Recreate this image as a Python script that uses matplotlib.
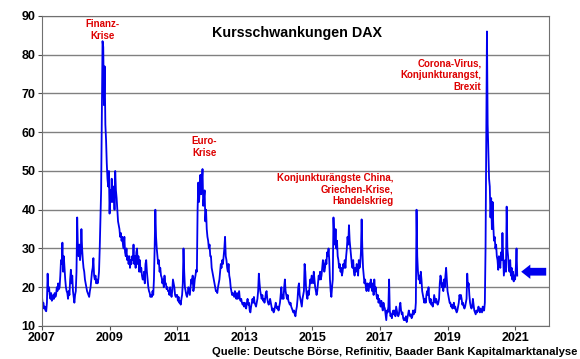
import numpy as np
import matplotlib
matplotlib.use("Agg")
import matplotlib.pyplot as plt
from matplotlib.patches import FancyArrow

plt.rcParams['font.family'] = ['Liberation Sans', 'DejaVu Sans']
plt.rcParams['font.weight'] = 'bold'

# weekly-ish values (4 per month)
vol_2007 = [17.5, 15.5, 16, 14.5, 15, 14, 13.8, 16, 23.5, 19, 20, 18,
            17, 18.5, 16.5, 17, 18, 17, 18.5, 17.5, 18, 20, 19, 21,
            19.5, 20, 23, 27, 26, 31.5, 24, 28, 25, 22, 20, 19,
            18.5, 17, 19, 18, 22, 24.5, 21, 23, 19, 17.5, 16, 18]
vol_2008 = [19, 24, 38, 30, 28, 31, 27, 29, 35, 30, 27, 25,
            24, 22, 21, 20, 19, 18.5, 18, 17.5, 19, 20, 22, 24,
            25, 27.5, 23, 22, 23, 21, 22, 21, 22, 24, 30, 38,
            45, 64, 83.5, 82, 67, 77, 62, 58, 52, 48, 46, 50]
vol_2009 = [39, 45, 42, 48, 42, 44, 46, 40, 50, 45, 43, 40,
            37, 36, 35, 33, 34, 32, 33, 31, 30, 33, 29, 28,
            30, 27, 28, 26, 28, 25, 27, 26, 28, 27, 31, 26,
            28, 25, 29, 30, 26, 28, 24, 27, 24, 25, 23, 22]
vol_2010 = [22, 24, 21, 26, 27, 24, 22, 20, 19, 18.5, 17.5, 18,
            17.5, 19, 18, 22, 30, 40, 33, 30, 28, 26, 27, 24,
            25, 23, 22.5, 21, 22, 20, 23, 21, 21, 19.5, 20, 19,
            19, 18, 20, 18.5, 17.5, 19, 22, 21, 20, 18, 17.5, 18]
vol_2011 = [18, 16.5, 17.5, 16, 16.5, 15.5, 17, 18, 21, 30, 24, 20,
            19, 18, 17.5, 18.5, 20, 19, 18, 20, 22, 21, 23, 19,
            20, 22, 23, 24.5, 24, 40, 47, 42, 45, 49, 44, 47,
            50.5, 41, 43, 45, 37, 40, 35, 33, 32, 30, 31, 28]
vol_2012 = [28, 25, 24, 23, 22, 21, 20, 19, 19, 18.5, 20, 21,
            22, 24, 26, 25, 27, 26, 28, 30, 33, 28, 27, 25,
            24, 26, 23, 22, 20, 19, 18, 18.5, 18, 17.5, 19, 18,
            17, 18.5, 17, 18, 19, 17, 16.5, 17, 16, 15.5, 16, 15]
vol_2013 = [16, 15, 14.5, 16, 17, 15.5, 16, 14, 13.5, 15, 16, 17,
            16, 17.5, 16, 15.5, 15, 16, 17, 19, 23.5, 21, 19, 18,
            17, 18, 16.5, 17, 16, 17, 18.5, 19, 17, 16, 15.5, 16,
            17, 16, 15, 14, 14.5, 13.5, 14, 15, 16, 15, 14.5, 15]
vol_2014 = [14, 15, 16, 18, 20, 17, 18, 17, 20, 22, 19, 18,
            17, 18, 16.5, 16, 15.5, 16, 15, 14.5, 14, 13.5, 14, 13,
            12.5, 14, 15, 17, 20, 21, 18, 17, 16, 15, 17, 18,
            19, 26, 24, 20, 18, 17, 19, 18, 20, 22, 21, 23]
vol_2015 = [22, 21, 24, 22, 20, 19, 18, 19, 21, 23, 22, 24,
            22, 23, 25, 27, 26, 24, 25, 27, 26, 29, 28, 30,
            27, 22, 19, 17.5, 20, 22, 38, 33, 31, 35, 30, 32,
            28, 27, 25, 26, 24, 25, 23, 24, 26, 25, 27, 25]
vol_2016 = [28, 30, 33, 31, 36, 32, 30, 28, 26, 25, 27, 24,
            23, 25, 24, 26, 25, 23, 27, 25, 26, 29, 37.5, 30,
            25, 23, 21, 22, 20, 19, 21, 20, 19, 21, 20, 22,
            20, 19, 21, 18, 22, 19, 20, 18, 17, 18, 16, 17]
vol_2017 = [16, 15, 16.5, 15, 14, 16, 15, 14.5, 13, 11.5, 14, 13.5,
            15, 22, 14, 12.5, 13, 12, 13.5, 14, 13, 14, 12.5, 15,
            14, 13, 12.5, 13, 15, 16, 14, 13, 13.5, 12, 11.5, 12,
            11.5, 12.5, 11, 12, 13, 14, 13, 12.5, 13, 12, 12.5, 14]
vol_2018 = [13, 14, 13.5, 16, 40, 28, 24, 22, 23, 21, 24, 22,
            19, 18, 17, 16, 17, 16, 18, 19, 18, 20, 17, 16,
            17, 15.5, 16, 15, 16, 18, 17, 16, 17, 16, 15.5, 16,
            17, 21, 23, 22, 20, 21, 19, 22, 20, 23, 25, 22]
vol_2019 = [19, 18, 17, 16, 16, 15, 15.5, 14.5, 15, 16, 14.5, 15,
            14, 13.5, 14, 15, 16, 18, 17, 18, 17, 15.5, 16, 15,
            14.5, 15, 16, 17, 23.5, 20, 21, 18, 16, 15, 14.5, 15,
            17, 15.5, 14, 13.5, 13, 14, 13.5, 14, 15, 14, 13.5, 14.5]
vol_2020 = [14, 13.5, 15, 14, 14, 16, 30, 60, 86, 62, 55, 48,
            46, 38, 43, 35, 42, 36, 32, 33, 30, 31, 28, 27,
            24.5, 28, 26, 25, 29, 27, 34, 28, 23, 25, 27, 24,
            40.8, 30, 28, 25, 24, 27, 23, 25, 22, 24, 21.5, 23]
vol_2021 = [22, 25, 30, 23]

vola = np.array(vol_2007 + vol_2008 + vol_2009 + vol_2010 + vol_2011 + vol_2012 +
                vol_2013 + vol_2014 + vol_2015 + vol_2016 + vol_2017 + vol_2018 +
                vol_2019 + vol_2020 + vol_2021)
dates = 2007 + np.arange(len(vola)) / 48.0
current = 24

year_ticks = [2007, 2009, 2011, 2013, 2015, 2017, 2019, 2021]

fig = plt.figure(figsize=(5.8, 3.59), dpi=100)
ax = fig.add_axes([0.0724, 0.092, 0.874, 0.8635])

ax.plot(dates, vola, color='#0000ee', lw=1.3)

ax.set_xlim(2007, 2022)
ax.set_ylim(10, 90)
ax.set_yticks(range(10, 91, 10))
ax.set_xticks(year_ticks)
ax.set_xticklabels([str(y) for y in year_ticks])
ax.grid(axis='y', color='#808080', lw=1)
ax.set_axisbelow(True)
for s in ax.spines.values():
    s.set_color('#707070')
ax.tick_params(length=3, color='#505050', labelsize=9, pad=1.5)
for lab in ax.get_xticklabels() + ax.get_yticklabels():
    lab.set_fontweight('bold')

# current level arrow
ax.add_patch(FancyArrow(2021.92, current, -0.74, 0, width=2.0, head_width=3.7,
                        head_length=0.27, length_includes_head=True,
                        color='#0000ee', lw=0))

red = '#dd0000'
ax.text(2008.8, 89.2, 'Finanz-\nKrise', color=red, fontsize=7, fontweight='bold',
        ha='center', va='top', linespacing=1.2)
ax.text(2011.8, 59, 'Euro-\nKrise', color=red, fontsize=7, fontweight='bold',
        ha='center', va='top', linespacing=1.2)
ax.text(2017.4, 49.5, 'Konjunkturängste China,\nGriechen-Krise,\nHandelskrieg',
        color=red, fontsize=7, fontweight='bold', ha='right', va='top',
        linespacing=1.2)
ax.text(2020.0, 79, 'Corona-Virus,\nKonjunkturangst,\nBrexit',
        color=red, fontsize=7, fontweight='bold', ha='right', va='top',
        linespacing=1.2)
ax.text(2014.55, 85.5, 'Kursschwankungen DAX', fontsize=10.3, fontweight='bold',
        ha='center', va='center')

fig.text(0.995, 0.006, 'Quelle: Deutsche Börse, Refinitiv, Baader Bank Kapitalmarktanalyse',
         fontsize=8.1, fontweight='bold', ha='right', va='bottom')

fig.savefig('out.png', dpi=100)
